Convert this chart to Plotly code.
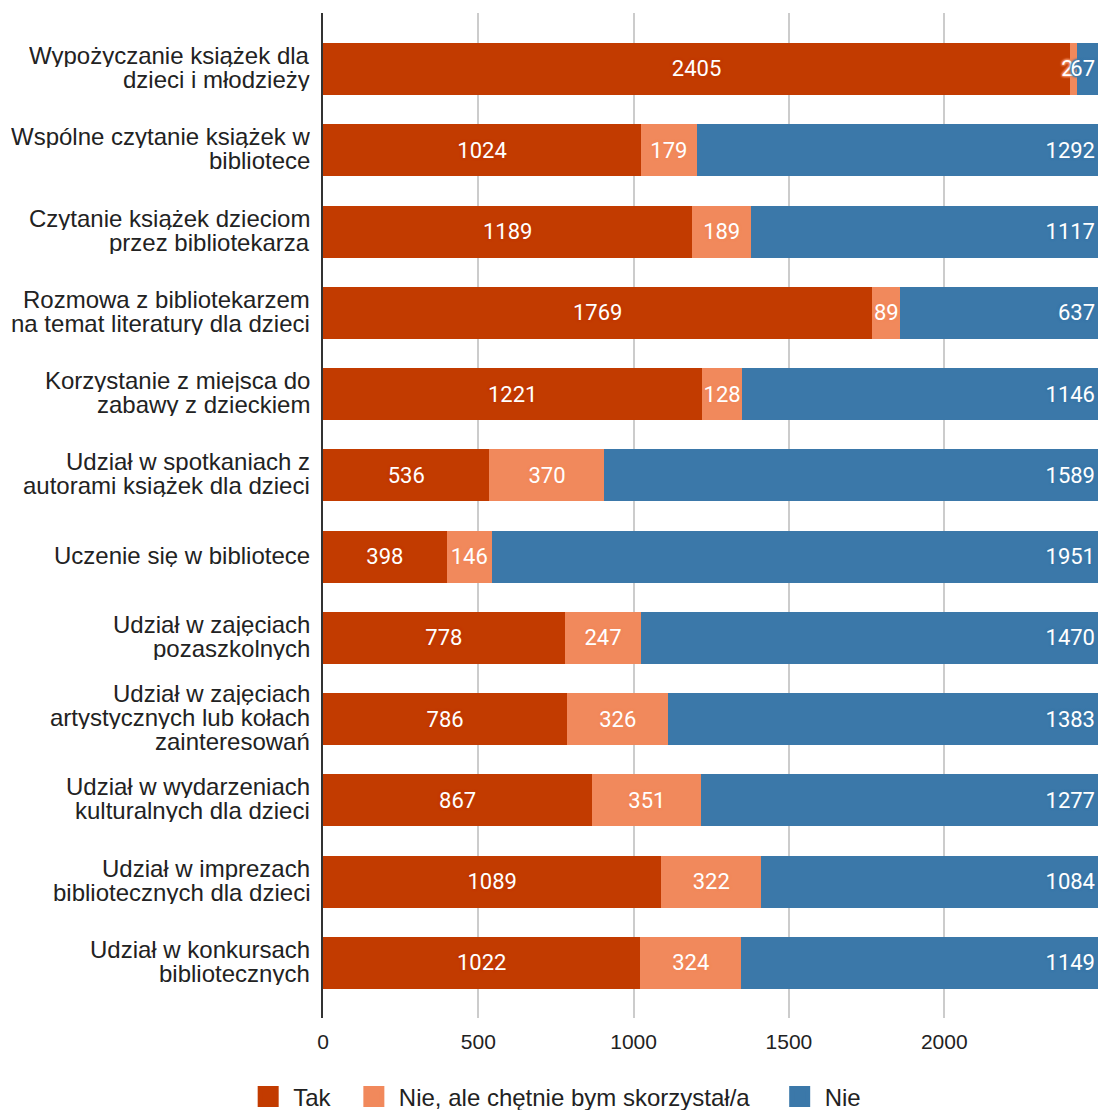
import plotly.graph_objects as go

categories = [
    "Wypożyczanie książek dla<br>dzieci i młodzieży",
    "Wspólne czytanie książek w<br>bibliotece",
    "Czytanie książek dzieciom<br>przez bibliotekarza",
    "Rozmowa z bibliotekarzem<br>na temat literatury dla dzieci",
    "Korzystanie z miejsca do<br>zabawy z dzieckiem",
    "Udział w spotkaniach z<br>autorami książek dla dzieci",
    "Uczenie się w bibliotece",
    "Udział w zajęciach<br>pozaszkolnych",
    "Udział w zajęciach<br>artystycznych lub kołach<br>zainteresowań",
    "Udział w wydarzeniach<br>kulturalnych dla dzieci",
    "Udział w imprezach<br>bibliotecznych dla dzieci",
    "Udział w konkursach<br>bibliotecznych",
]
tak = [2405, 1024, 1189, 1769, 1221, 536, 398, 778, 786, 867, 1089, 1022]
nie_ale = [23, 179, 189, 89, 128, 370, 146, 247, 326, 351, 322, 324]
nie = [67, 1292, 1117, 637, 1146, 1589, 1951, 1470, 1383, 1277, 1084, 1149]
x_ticks = [0, 500, 1000, 1500, 2000]
series_names = ["Tak", "Nie, ale chętnie bym skorzystał/a", "Nie"]

series = [
    (series_names[0], tak, "#c23b00", "middle"),
    (series_names[1], nie_ale, "#f1895c", "middle"),
    (series_names[2], nie, "#3b78a9", "end"),
]

fig = go.Figure()
for name, vals, color, anchor in series:
    halo = ", ".join(f"{dx}px {dy}px 2px {color}" for dx, dy in [(1, 1), (-1, -1), (1, -1), (-1, 1), (0, 0)])
    fig.add_trace(go.Bar(
        name=name, y=categories, x=vals, orientation="h",
        marker=dict(color=color, line=dict(width=0)),
        text=[str(v) for v in vals], textposition="inside", textangle=0,
        insidetextanchor=anchor, constraintext="none",
        textfont=dict(family="Roboto", size=22, color="white", weight=400, shadow=halo),
        width=0.64, cliponaxis=False, showlegend=False,
    ))
# legend entries with larger square swatches (trailing spaces widen the gap between entries)
pads = ["\u00a0\u00a0", "\u00a0\u00a0\u00a0", ""]
for (name, vals, color, anchor), pad in zip(series, pads):
    fig.add_trace(go.Scatter(
        name=name + pad, x=[None], y=[None], mode="markers",
        marker=dict(symbol="square", size=16, color=color, line=dict(color=color, width=5)),
        showlegend=True,
    ))

# category labels with tight line spacing
LH = 24
for cat in categories:
    lines = cat.split("<br>")
    n = len(lines)
    for j, line in enumerate(lines):
        fig.add_annotation(
            xref="paper", x=0, xanchor="right", xshift=-12,
            yref="y", y=cat, yanchor="middle", yshift=((n - 1) / 2 - j) * LH + 2,
            text=line, showarrow=False, height=LH, borderpad=0,
            font=dict(family="Liberation Sans, Arial, sans-serif", size=24, color="#222222"),
        )

fig.update_layout(
    barmode="stack",
    width=1098, height=1110,
    margin=dict(l=323, r=0, t=13, b=92, autoexpand=False),
    plot_bgcolor="white", paper_bgcolor="white",
    font=dict(family="Liberation Sans, Arial, sans-serif", size=21, color="#222222"),
    uniformtext=dict(minsize=20, mode="show"),
    showlegend=True,
    legend=dict(orientation="h", x=-0.103, xanchor="left",
                y=-0.0786, yanchor="middle",
                font=dict(size=24, color="#222222"), traceorder="normal", itemwidth=40),
    xaxis=dict(range=[0, 2495], tickvals=x_ticks,
               showgrid=True, gridcolor="#cccccc", gridwidth=1.5, zeroline=False,
               showline=False, ticks="", ticklabelstandoff=9),
    yaxis=dict(range=[11.677, -0.689], autorange=False, showgrid=False,
               showline=True, linecolor="#333333", linewidth=1.5, ticks="",
               showticklabels=False),
)

fig.write_html("out.html", config={"displayModeBar": False},
               post_script="document.body.style.margin='0';document.body.style.overflow='hidden';")
